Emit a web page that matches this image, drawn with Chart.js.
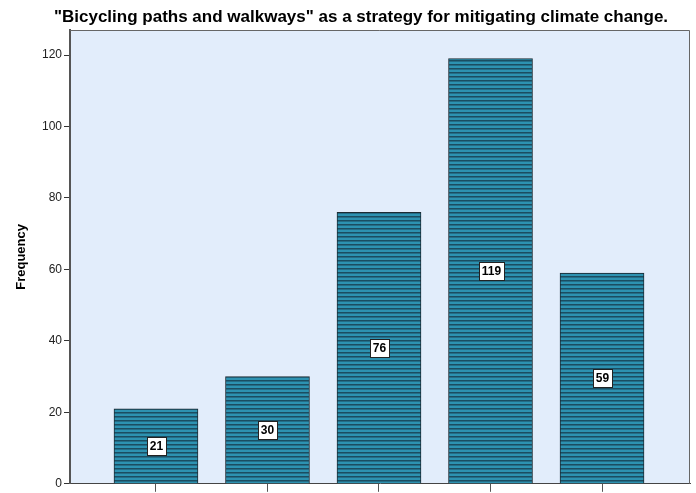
<!DOCTYPE html>
<html>
<head>
<meta charset="utf-8">
<script src="https://cdn.jsdelivr.net/npm/chart.js@4"></script>
<style>
  html, body { margin: 0; padding: 0; background: #fff; }
  #wrap { width: 696px; height: 493px; }
</style>
</head>
<body>
<div id="wrap"><canvas id="chart"></canvas></div>
<script>
const ctx = document.getElementById("chart");

// response categories (axis labels fall below the visible area)
const categories = ["Strongly disagree", "Disagree", "Neutral", "Agree", "Strongly agree"];
const counts = [21, 30, 76, 119, 59];
const yTicks = [0, 20, 40, 60, 80, 100, 120];
const chartTitle = "\"Bicycling paths and walkways\" as a strategy for mitigating climate change.";

const FONT = "'Liberation Sans', Arial, sans-serif";

// horizontal stripe fill used by SPSS-style bars
function stripes() {
  const c = document.createElement("canvas");
  c.width = 4;
  c.height = 4;
  const g = c.getContext("2d");
  g.fillStyle = "#2d92b1";
  g.fillRect(0, 0, 4, 4);
  g.fillStyle = "#1b4d61";
  g.fillRect(0, 0, 4, 1);
  g.fillStyle = "#236d87";
  g.fillRect(0, 1, 4, 1);
  return g.createPattern(c, "repeat");
}

// title sits a little right of the canvas centre
const topTitle = {
  id: "topTitle",
  afterDraw(chart) {
    const g = chart.ctx;
    g.save();
    g.font = "bold 17px " + FONT;
    g.fillStyle = "#000";
    g.textAlign = "center";
    g.textBaseline = "middle";
    g.fillText(chartTitle, 361, 17);
    g.restore();
  }
};

const plotFrame = {
  id: "plotFrame",
  beforeDraw(chart) {
    const a = chart.chartArea;
    const g = chart.ctx;
    g.save();
    g.fillStyle = "#e2edfb";
    g.fillRect(a.left, a.top, a.right - a.left, a.bottom - a.top);
    g.restore();
  },
  afterDraw(chart) {
    const a = chart.chartArea;
    const g = chart.ctx;
    g.save();
    g.strokeStyle = "#666";
    g.lineWidth = 1;
    g.beginPath();
    g.moveTo(a.left, a.top + 0.5);
    g.lineTo(a.right - 0.5, a.top + 0.5);
    g.lineTo(a.right - 0.5, a.bottom);
    g.stroke();
    g.restore();
  }
};

// white boxed count in the middle of each bar
const barLabels = {
  id: "barLabels",
  afterDatasetsDraw(chart) {
    const g = chart.ctx;
    const meta = chart.getDatasetMeta(0);
    g.save();
    g.font = "bold 12px " + FONT;
    g.textAlign = "center";
    g.textBaseline = "middle";
    meta.data.forEach((bar, i) => {
      const text = String(counts[i]);
      const w = Math.round(g.measureText(text).width + 6);
      const h = 18;
      const cx = Math.round(bar.x);
      const cy = Math.round((bar.y + bar.base) / 2);
      const x0 = Math.round(cx - w / 2);
      const y0 = Math.round(cy - h / 2);
      g.fillStyle = "#fff";
      g.fillRect(x0, y0, w, h);
      g.strokeStyle = "#222";
      g.lineWidth = 1;
      g.strokeRect(x0 + 0.5, y0 + 0.5, w, h);
      g.fillStyle = "#000";
      g.fillText(text, cx + 0.5, cy + 1);
    });
    g.restore();
  }
};

new Chart(ctx, {
  type: "bar",
  data: {
    labels: categories,
    datasets: [{
      label: "Frequency",
      data: counts.map((v, i) => ({ x: i, y: v })),
      backgroundColor: stripes(),
      borderColor: "#1c2b33",
      borderWidth: 1,
      borderSkipped: "bottom",
      barThickness: 84
    }]
  },
  options: {
    responsive: true,
    maintainAspectRatio: false,
    animation: false,
    layout: { padding: { left: 0, right: 6, top: 30, bottom: 0 } },
    plugins: {
      legend: { display: false },
      tooltip: { enabled: false },
      title: { display: false }
    },
    scales: {
      x: {
        type: "linear",
        offset: false,
        min: -0.771,
        max: 4.789,
        afterBuildTicks(scale) {
          scale.ticks = categories.map((c, i) => ({ value: i }));
        },
        afterFit(scale) { scale.height = 8; },
        ticks: { display: false },
        grid: { offset: false, drawOnChartArea: false, tickLength: 8, color: "#555" },
        border: { color: "#444", width: 1 }
      },
      y: {
        min: 0,
        max: 127,
        afterBuildTicks(scale) {
          scale.ticks = yTicks.map(v => ({ value: v }));
        },
        afterFit(scale) { scale.width = 70; },
        ticks: {
          color: "#222",
          font: { family: FONT, size: 12 },
          padding: 2
        },
        grid: { drawOnChartArea: false, tickLength: 6, color: "#333" },
        border: { color: "#555", width: 2 },
        title: {
          display: true,
          text: "Frequency",
          color: "#000",
          font: { family: FONT, size: 13, weight: "bold" },
          padding: { top: 14, bottom: 0 }
        }
      }
    }
  },
  plugins: [plotFrame, barLabels, topTitle]
});
</script>
</body>
</html>
